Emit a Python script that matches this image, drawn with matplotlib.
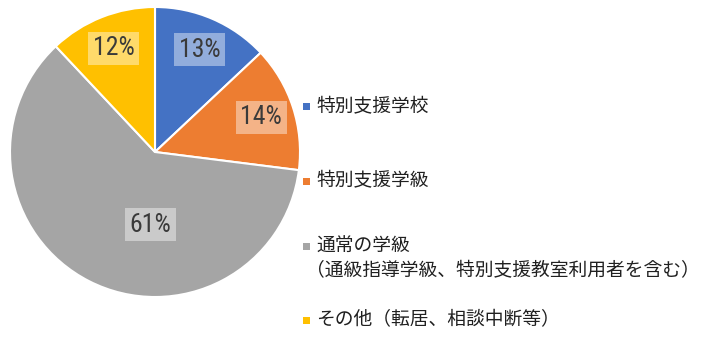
import matplotlib
matplotlib.use("Agg")
import matplotlib.pyplot as plt
from matplotlib import font_manager
import numpy as np

categories = ["特別支援学校", "特別支援学級",
              "通常の学級\n（通級指導学級、特別支援教室利用者を含む）",
              "その他（転居、相談中断等）"]
values = [13, 14, 61, 12]
colors = ["#4472C4", "#ED7D31", "#A5A5A5", "#FFC000"]

W, H = 702, 338
fig = plt.figure(figsize=(W / 100, H / 100), dpi=100)
cx, cy, R = 155, 186, 145
ax = fig.add_axes([(cx - R) / W, (cy - R) / H, 2 * R / W, 2 * R / H])

wedges, _ = ax.pie(values, colors=colors, startangle=90, counterclock=False,
                   radius=1.0, wedgeprops=dict(edgecolor="white", linewidth=1.5))
ax.set_xlim(-1, 1)
ax.set_ylim(-1, 1)
ax.set_aspect("equal")
ax.axis("off")

names = {f.name for f in font_manager.fontManager.ttflist}
narrow = [n for n in ["Liberation Sans Narrow", "Roboto Condensed", "DejaVu Sans"] if n in names]

total = sum(values)
for w, v in zip(wedges, values):
    mid = np.deg2rad((w.theta1 + w.theta2) / 2)
    if v / total > 0.5:
        x, y = -0.03, -0.5
    else:
        x, y = 0.77 * np.cos(mid), 0.77 * np.sin(mid)
    ax.text(x, y, f"{v}%", ha="center", va="center", fontsize=18.5,
            family=narrow, fontstretch="condensed", color="#3a3a3a",
            bbox=dict(boxstyle="square,pad=0.18", facecolor="white",
                      alpha=0.42, edgecolor="none"))

# legend drawn as markers and text in figure pixels
legend_y = [107, 181, 246, 320]
jp_font = ["Noto Sans CJK JP", "DejaVu Sans"]
for lab, col, ly in zip(categories, colors, legend_y):
    fig.patches.append(plt.Rectangle((303 / W, (H - ly - 3.5) / H), 7 / W, 7 / H,
                                     transform=fig.transFigure, facecolor=col,
                                     edgecolor="none"))
    for k, line in enumerate(lab.split("\n")):
        xo = 316 if k == 0 else 306
        fig.text(xo / W, (H - ly - k * 25) / H, line, ha="left", va="center",
                 fontsize=13.5, family=jp_font, color="#202020")

fig.savefig("out.png", dpi=100, facecolor="white")
